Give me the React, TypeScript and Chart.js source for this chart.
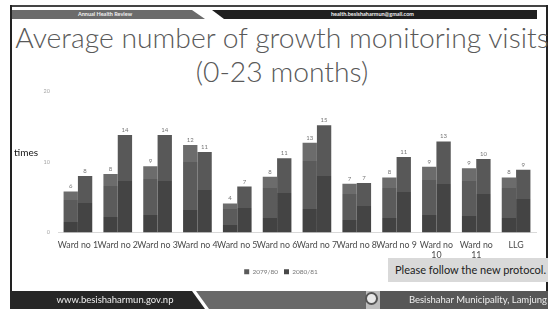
import React, { useEffect, useRef } from "react";
import { Chart, registerables } from "chart.js";

Chart.register(...registerables);

const categories: (string | string[])[] = [
  "Ward no 1", "Ward no 2", "Ward no 3", "Ward no 4", "Ward no 5", "Ward no 6",
  "Ward no 7", "Ward no 8", "Ward no 9", ["Ward no", "10"], ["Ward no", "11"], "LLG",
];
const seriesNames = ["2079/80", "2080/81"];
const values7980 = [5.8, 8.3, 9.4, 12.4, 4.1, 7.9, 12.7, 6.9, 7.8, 9.3, 9.1, 7.8];
const values8081 = [8.0, 13.8, 13.8, 11.4, 6.5, 10.5, 15.2, 7.0, 10.7, 12.9, 10.4, 8.9];
const yTicks = [0, 10, 20];

const bandStops: [number, string][][] = [
  [[0, "#6c6c6c"], [0.2, "#6c6c6c"], [0.2, "#5b5b5b"], [0.74, "#5b5b5b"], [0.74, "#424242"], [1, "#424242"]],
  [[0, "#585858"], [0.47, "#585858"], [0.47, "#444444"], [1, "#444444"]],
];
const legendColors = ["#5a5a5a", "#484848"];

function makeBg(di: number) {
  return (ctx: any) => {
    const chart = ctx.chart;
    if (ctx.type !== "data" || !chart.chartArea || !chart.scales.y) return legendColors[di];
    const v = ctx.parsed ? ctx.parsed.y : ctx.raw;
    const y = chart.scales.y;
    const top = y.getPixelForValue(v);
    const base = y.getPixelForValue(0);
    if (!isFinite(top) || !isFinite(base) || base - top < 1) return legendColors[di];
    const g = chart.ctx.createLinearGradient(0, top, 0, base);
    bandStops[di].forEach(([o, c]) => g.addColorStop(o, c));
    return g;
  };
}

const valueLabels = {
  id: "valueLabels",
  afterLayout(chart: any) {
    if (chart.legend) {
      chart.legend.left += 13;
      chart.legend.right += 13;
    }
  },
  afterDatasetsDraw(chart: any) {
    const c = chart.ctx;
    c.save();
    c.font = "6px Lato";
    c.fillStyle = "#777777";
    c.textAlign = "center";
    c.textBaseline = "bottom";
    chart.data.datasets.forEach((ds: any, i: number) => {
      const meta = chart.getDatasetMeta(i);
      meta.data.forEach((bar: any, j: number) => {
        c.fillText(String(Math.round(ds.data[j])), bar.x, bar.y - 2);
      });
    });
    c.restore();
  },
};

function BarChart() {
  const ref = useRef<HTMLCanvasElement>(null);
  useEffect(() => {
    if (!ref.current) return;
    const chart = new Chart(ref.current, {
      type: "bar",
      data: {
        labels: categories,
        datasets: [
          { label: seriesNames[0], data: values7980, backgroundColor: makeBg(0) as any, borderWidth: 0 },
          { label: seriesNames[1], data: values8081, backgroundColor: makeBg(1) as any, borderWidth: 0 },
        ],
      },
      options: {
        animation: false,
        responsive: false,
        maintainAspectRatio: false,
        devicePixelRatio: 1,
        layout: { padding: { top: 10, right: 20, left: 0, bottom: 5 } },
        datasets: { bar: { categoryPercentage: 0.72, barPercentage: 1 } },
        plugins: {
          tooltip: { enabled: false },
          legend: {
            position: "bottom",
            labels: {
              font: { family: "Lato", size: 6.5 },
              color: "#777777",
              boxWidth: 5,
              boxHeight: 5,
              padding: 6,
              generateLabels: (chart: any) =>
                chart.data.datasets.map((ds: any, i: number) => ({
                  text: ds.label,
                  fillStyle: legendColors[i],
                  strokeStyle: legendColors[i],
                  lineWidth: 0,
                  hidden: false,
                  datasetIndex: i,
                  fontColor: "#777777",
                })),
            },
          },
        },
        scales: {
          x: {
            grid: { display: false, drawTicks: false },
            border: { display: true, color: "#d9d9d9", width: 1 },
            ticks: {
              autoSkip: false,
              maxRotation: 0,
              minRotation: 0,
              padding: 7,
              color: "#4a4a4a",
              font: { family: "Lato", size: 8.8 },
            },
            afterFit: (s: any) => { s.height = 30; },
          },
          y: {
            min: 0,
            max: 20,
            afterBuildTicks: (s: any) => { s.ticks = yTicks.map((v) => ({ value: v })); },
            grid: { display: false, drawTicks: false },
            border: { display: false },
            ticks: {
              padding: 8,
              color: "#a6a6a6",
              font: { family: "Lato", size: 5.5 },
            },
            afterFit: (s: any) => { s.width = 58; },
          },
        },
      },
      plugins: [valueLabels],
    });
    return () => chart.destroy();
  }, []);
  return (
    <canvas
      ref={ref}
      width={556}
      height={210}
      style={{ position: "absolute", left: 0, top: 80, width: 556, height: 210 }}
    />
  );
}

export default function App() {
  const font = "Lato, 'Noto Sans', sans-serif";
  return (
    <div style={{ position: "fixed", left: 0, top: 0, width: 556, height: 309, background: "#fff", overflow: "hidden", fontFamily: font }}>
      {/* slide frame */}
      <div style={{ position: "absolute", left: 10, top: 5, width: 538, height: 2, background: "#444" }} />
      <div style={{ position: "absolute", left: 10, top: 5, width: 2, height: 290, background: "#222" }} />
      <div style={{ position: "absolute", left: 546, top: 5, width: 2, height: 290, background: "#222" }} />
      {/* header */}
      <div style={{ position: "absolute", left: 12, top: 10, width: 200, height: 9, background: "#6b6b6b", clipPath: "polygon(0 0, 180px 0, 193px 100%, 0 100%)" }} />
      <div style={{ position: "absolute", left: 200, top: 10, width: 337, height: 9, background: "#1f1f1f", clipPath: "polygon(12px 0, 100% 0, 100% 100%, 24px 100%)" }} />
      <div style={{ position: "absolute", left: 40, top: 10, width: 130, height: 9, lineHeight: "9px", textAlign: "center", color: "#f0f0f0", fontSize: 5.5, fontWeight: 700 }}>Annual Health Review</div>
      <div style={{ position: "absolute", left: 300, top: 10, width: 145, height: 9, lineHeight: "9px", textAlign: "center", color: "#f0f0f0", fontSize: 5.5, fontWeight: 700 }}>health.besishaharmun@gmail.com</div>
      {/* title */}
      <div style={{ position: "absolute", left: 15, top: 20, width: 534, textAlign: "center", color: "#595959", fontSize: 28.3, fontWeight: 300, lineHeight: "34px", whiteSpace: "nowrap" }}>
        <div>Average number of growth monitoring visits</div>
        <div>(0-23 months)</div>
      </div>
      <BarChart />
      <div style={{ position: "absolute", left: 14, top: 146, fontSize: 10, color: "#111" }}>times</div>
      {/* callout */}
      <div style={{ position: "absolute", left: 388, top: 258, width: 160, height: 24, background: "#d9d9d9", color: "#222", fontSize: 11, lineHeight: "24px", textAlign: "right", paddingRight: 2, boxSizing: "border-box", whiteSpace: "nowrap" }}>Please follow the new protocol.</div>
      {/* footer */}
      <div style={{ position: "absolute", left: 10, top: 291, width: 200, height: 18, background: "#262626", clipPath: "polygon(0 0, 182px 0, 195px 100%, 0 100%)" }} />
      <div style={{ position: "absolute", left: 190, top: 291, width: 176, height: 18, background: "#696969", clipPath: "polygon(6px 0, 100% 0, 100% 100%, 19px 100%)" }} />
      <div style={{ position: "absolute", left: 366, top: 291, width: 14, height: 18, background: "#bdbdbd" }} />
      <div style={{ position: "absolute", left: 365, top: 292, width: 13, height: 13, borderRadius: "50%", background: "#e8e8e8", border: "2px solid #555", boxSizing: "border-box" }} />
      <div style={{ position: "absolute", left: 380, top: 291, width: 168, height: 18, background: "#575757" }} />
      <div style={{ position: "absolute", left: 10, top: 291, width: 210, height: 18, lineHeight: "18px", textAlign: "center", color: "#eeeeee", fontSize: 9.5 }}>www.besishaharmun.gov.np</div>
      <div style={{ position: "absolute", left: 390, top: 291, width: 158, height: 18, lineHeight: "18px", textAlign: "right", paddingRight: 1, boxSizing: "border-box", color: "#eeeeee", fontSize: 9.5, whiteSpace: "nowrap" }}>Besishahar Municipality, Lamjung</div>
    </div>
  );
}
